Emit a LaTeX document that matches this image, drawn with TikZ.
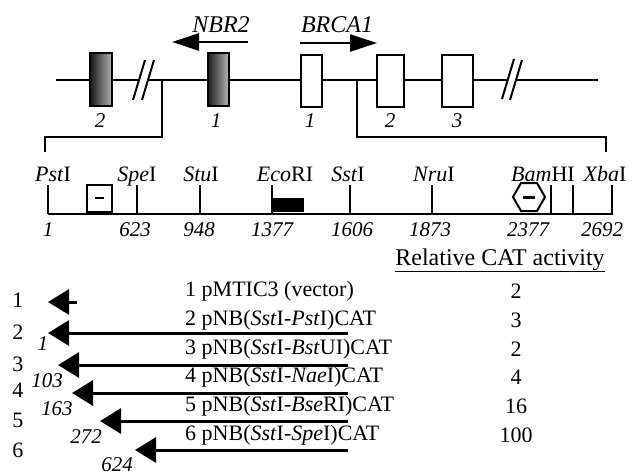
\documentclass[tikz,border=0pt]{standalone}
\usepackage{fontspec}
\setmainfont{Liberation Serif}
\usetikzlibrary{arrows.meta}
\begin{document}
\begin{tikzpicture}[x=1pt,y=-1pt,
  gline/.style={line width=2.2pt},
  brk/.style={line width=2pt},
  exonw/.style={draw,line width=2pt,fill=white,inner sep=0pt},
  exond/.style={draw,line width=2pt,inner sep=0pt,left color=black!90,right color=black!30},
  tickl/.style={line width=2pt},
  num/.style={font=\fontsize{21}{25}\selectfont\itshape,inner sep=0pt},
  toplab/.style={font=\fontsize{24}{28}\selectfont\itshape,inner sep=0pt},
  site/.style={font=\fontsize{22}{26}\selectfont,inner sep=0pt,anchor=base},
  rowtxt/.style={font=\fontsize{22}{26}\selectfont,inner sep=0pt,anchor=west},
  val/.style={font=\fontsize{22}{26}\selectfont,inner sep=0pt},
  topar/.style={line width=2.5pt,-{Triangle[length=27pt,width=17pt]}},
  delar/.style={line width=3pt,-{Triangle[length=21pt,width=25pt]}}
]
\useasboundingbox (0,0) rectangle (632,476);
% top gene line
\coordinate (L0) at (56,80);
\coordinate (L1) at (139,80);
\coordinate (L2) at (148,80);
\coordinate (L3) at (507,80);
\coordinate (L4) at (515,80);
\coordinate (L5) at (598,80);
\draw[gline] (L0) -- (L1);
\draw[gline] (L2) -- (L3);
\draw[gline] (L4) -- (L5);
\coordinate (s1a) at (133,100); \coordinate (s1b) at (145,60);
\coordinate (s2a) at (142,100); \coordinate (s2b) at (154,60);
\coordinate (s3a) at (502,99); \coordinate (s3b) at (514,59);
\coordinate (s4a) at (510,100); \coordinate (s4b) at (522,60);
\draw[brk] (s1a) -- (s1b);
\draw[brk] (s2a) -- (s2b);
\draw[brk] (s3a) -- (s3b);
\draw[brk] (s4a) -- (s4b);
% bracket
\coordinate (bk1) at (162,80); \coordinate (bk2) at (162,137);
\coordinate (bk3) at (45,137); \coordinate (bk4) at (45,152);
\coordinate (bk5) at (357,80); \coordinate (bk6) at (357,137);
\coordinate (bk7) at (606,137); \coordinate (bk8) at (606,152);
\draw[brk] (bk1) -- (bk2) -- (bk3) -- (bk4);
\draw[brk] (bk5) -- (bk6) -- (bk7) -- (bk8);
% exons
\node[exond,minimum width=22pt,minimum height=53pt] (n2) at (101,80) {};
\node[exond,minimum width=21pt,minimum height=53pt] (n1) at (218,80) {};
\node[exonw,minimum width=21pt,minimum height=52pt] (b1) at (311.5,81) {};
\node[exonw,minimum width=27pt,minimum height=52pt] (b2) at (390.5,81) {};
\node[exonw,minimum width=31pt,minimum height=52pt] (b3) at (457.5,81) {};
\node[num] (ln2) at (100,121) {2};
\node[num] (ln1) at (216,121) {1};
\node[num] (lb1) at (310,121) {1};
\node[num] (lb2) at (390,121) {2};
\node[num] (lb3) at (457,121) {3};
% gene arrows
\node[toplab] (nbr) at (221,25) {NBR2};
\node[toplab] (brca) at (337,25) {BRCA1};
\coordinate (na1) at (248,42); \coordinate (na2) at (172,42);
\coordinate (ba1) at (300,43); \coordinate (ba2) at (377,43);
\draw[topar] (na1) -- (na2);
\draw[topar] (ba1) -- (ba2);
% restriction map
\coordinate (m0) at (48,214); \coordinate (m1) at (613,214);
\draw[line width=2.5pt] (m0) -- (m1);
\foreach \x/\nm in {48/pst,137/spe,200/stu,272/eco,350/sst,432/nru,551/bam,573/bamb,612/xba}{
  \coordinate (t\nm) at (\x,185);
  \coordinate (u\nm) at (\x,214);
  \draw[tickl] (t\nm) -- (u\nm);
}
\node[site] (lpst) at (53,182) {\textit{Pst}I};
\node[site] (lspe) at (137,182) {\textit{Spe}I};
\node[site] (lstu) at (201,182) {\textit{Stu}I};
\node[site] (leco) at (285,182) {\textit{Eco}RI};
\node[site] (lsst) at (348,182) {\textit{Sst}I};
\node[site] (lnru) at (434,182) {\textit{Nru}I};
\node[site] (lbam) at (543,182) {\textit{Bam}HI};
\node[site] (lxba) at (605,182) {\textit{Xba}I};
\foreach \x/\v/\nm in {48/1/a,135/623/b,199/948/c,272/1377/d,352/1606/e,430/1873/f,528/2377/g,602/2692/h}{
  \node[site,font=\fontsize{21}{25}\selectfont\itshape] (p\nm) at (\x,236) {\v};
}
% elements
\node[draw,line width=2pt,minimum width=25pt,minimum height=27pt,inner sep=0pt] (mbox) at (99.5,198.5) {};
\coordinate (mm1) at (95,198); \coordinate (mm2) at (104,198);
\draw[line width=2.5pt] (mm1) -- (mm2);
\node[fill=black,minimum width=31pt,minimum height=14pt,inner sep=0pt] (ecobox) at (288.5,205) {};
\coordinate (h1) at (513,197); \coordinate (h2) at (521,183); \coordinate (h3) at (537,183);
\coordinate (h4) at (545,197); \coordinate (h5) at (537,211); \coordinate (h6) at (521,211);
\draw[line width=2pt,line join=miter] (h1) -- (h2) -- (h3) -- (h4) -- (h5) -- (h6) -- cycle;
\coordinate (hm1) at (523,197); \coordinate (hm2) at (535,197);
\draw[line width=3pt] (hm1) -- (hm2);
% activity header
\node[val,anchor=base,font=\fontsize{24}{28}\selectfont] (rel) at (500,265) {\underline{Relative CAT activity}};
% rows
\foreach \i/\y in {1/300,2/332,3/364,4/390,5/420,6/450}{
  \node[val] (r\i) at (18,\y) {\i};
}
\node[rowtxt] (c1) at (185,291) {1 pMTIC3 (vector)};
\node[rowtxt] (c2) at (185,320) {2 pNB(\textit{Sst}I-\textit{Pst}I)CAT};
\node[rowtxt] (c3) at (185,349) {3 pNB(\textit{Sst}I-\textit{Bst}UI)CAT};
\node[rowtxt] (c4) at (185,377) {4 pNB(\textit{Sst}I-\textit{Nae}I)CAT};
\node[rowtxt] (c5) at (185,406) {5 pNB(\textit{Sst}I-\textit{Bse}RI)CAT};
\node[rowtxt] (c6) at (185,435) {6 pNB(\textit{Sst}I-\textit{Spe}I)CAT};
\foreach \i/\y/\v in {1/291/2,2/320/3,3/349/2,4/377/4,5/406/16,6/435/100}{
  \node[val] (v\i) at (516,\y) {\v};
}
% deletion arrows
\coordinate (d1s) at (77,302); \coordinate (d1e) at (48,302);
\coordinate (d2s) at (348,333); \coordinate (d2e) at (48,333);
\coordinate (d3s) at (348,365); \coordinate (d3e) at (58,365);
\coordinate (d4s) at (348,393); \coordinate (d4e) at (72,393);
\coordinate (d5s) at (348,421); \coordinate (d5e) at (100,421);
\coordinate (d6s) at (348,450); \coordinate (d6e) at (135,450);
\foreach \i in {1,...,6}{ \draw[delar] (d\i s) -- (d\i e); }
\node[num] (e2) at (43,344) {1};
\node[num] (e3) at (47,381) {103};
\node[num] (e4) at (57,409) {163};
\node[num] (e5) at (86,437) {272};
\node[num] (e6) at (117,465) {624};
\end{tikzpicture}
\end{document}
